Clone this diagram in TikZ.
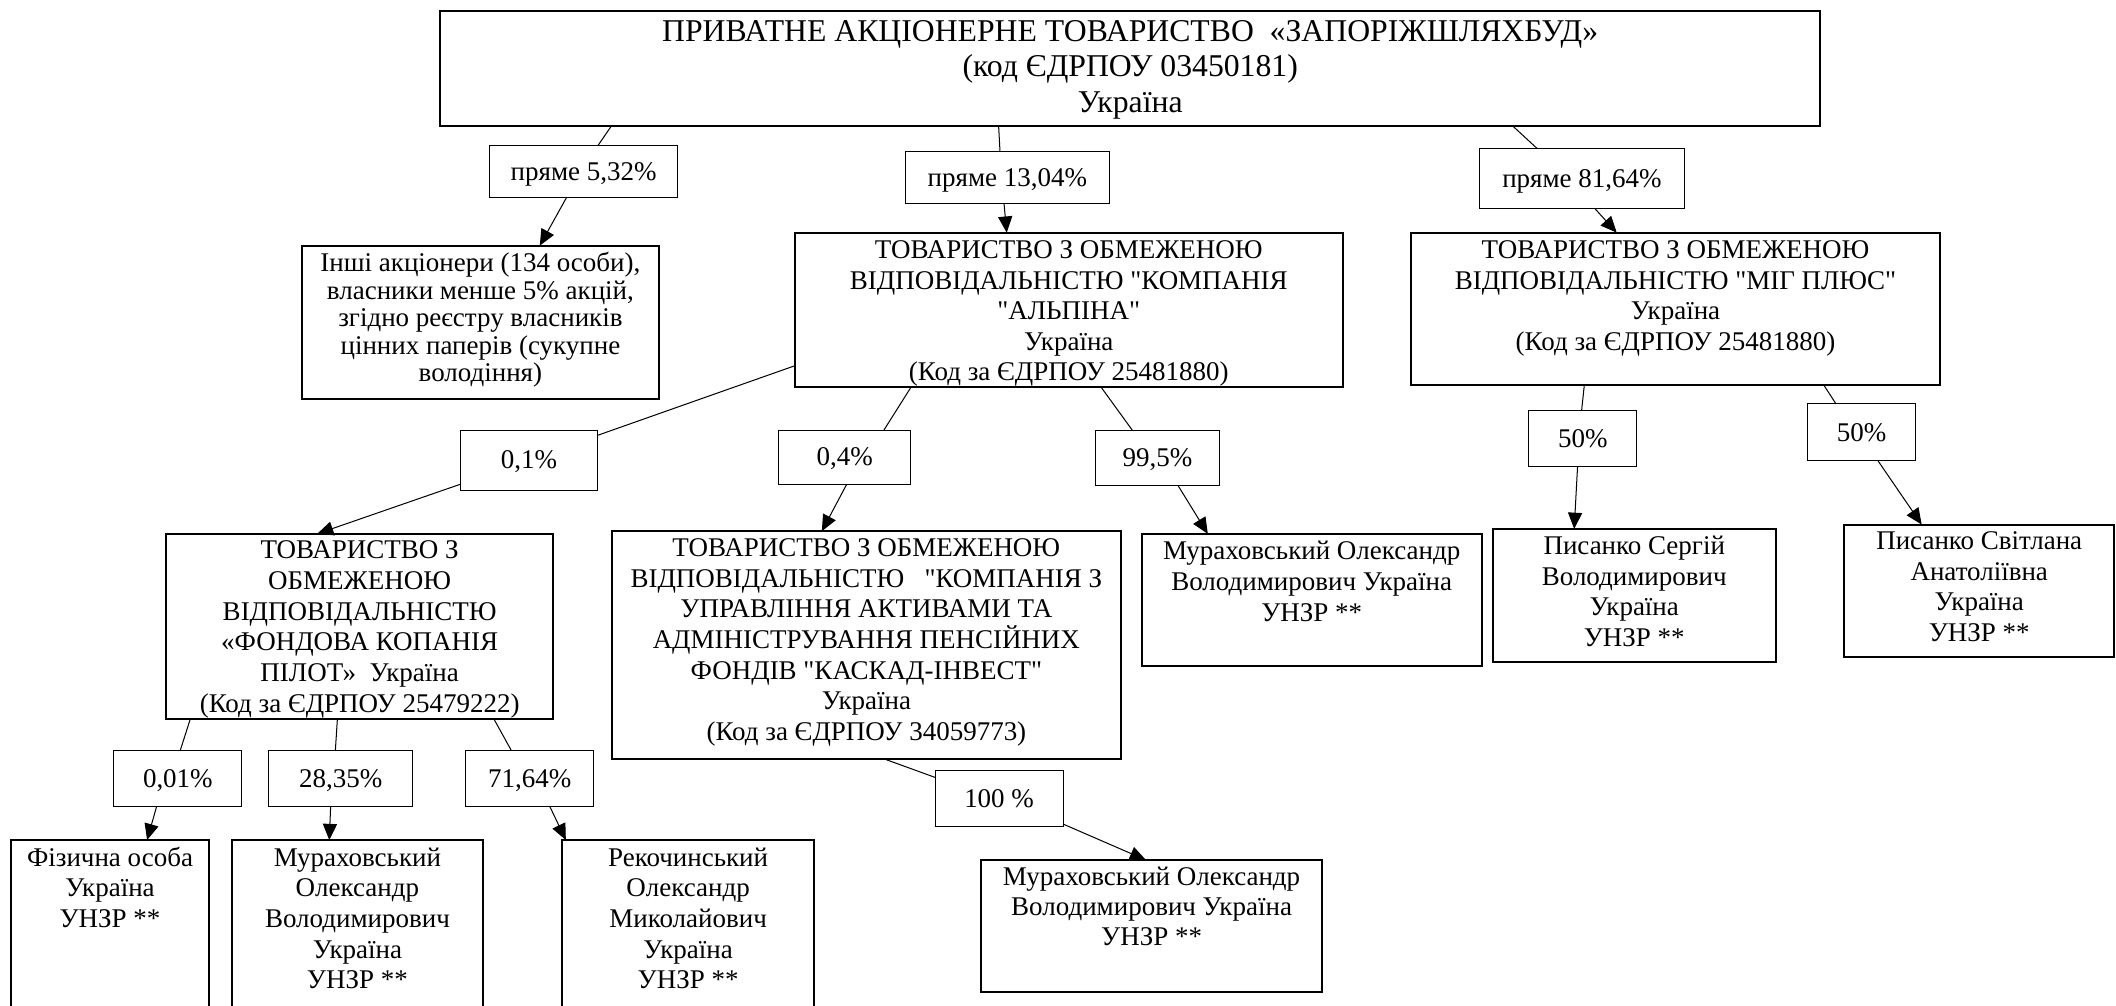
\documentclass[tikz,border=0pt]{standalone}
\usepackage{fontspec}
\setmainfont{Liberation Serif}[Ligatures=TeXOff]
\usetikzlibrary{arrows.meta}
% #1 width, #2 height, #3 font size, #4 line skip, #5 first baseline offset, #6 lines
\newcommand{\boxlines}[6]{\parbox[b][#2][t]{#1}{\fontsize{#3}{#4}\selectfont\centering\rule{0pt}{#5}#6\par}}
\begin{document}
\begin{tikzpicture}[x=1pt,y=-1pt,
  bx/.style={draw, line width=1.5pt, inner sep=0pt, outer sep=0pt, anchor=north west},
  lb/.style={draw, line width=0.75pt, inner sep=0pt, outer sep=0pt, anchor=north west,
             text height=13pt, text depth=0pt},
  ln/.style={line width=0.75pt},
  arr/.style={ln, -{Triangle[length=12pt,width=10.5pt]}},
  font=\fontsize{20}{22.7}\selectfont]
\useasboundingbox (0,0) rectangle (1568,745);
\clip (0,0) rectangle (1568,745);

% main boxes
\node[bx] (root) at (326,8) {\boxlines{1023pt}{85.4pt}{23.5}{26}{23pt}{ПРИВАТНЕ АКЦІОНЕРНЕ ТОВАРИСТВО~ «ЗАПОРІЖШЛЯХБУД»\\(код ЄДРПОУ 03450181)\\Україна}};
\node[bx] (inshi) at (224,182) {\boxlines{264pt}{114pt}{20}{20.4}{19.3pt}{Інші акціонери (134 особи),\\власники менше 5\% акцій,\\згідно реєстру власників\\цінних паперів (сукупне\\володіння)}};
\node[bx] (alp) at (589,172.4) {\boxlines{406pt}{114.6pt}{20}{22.6}{19.2pt}{ТОВАРИСТВО З ОБМЕЖЕНОЮ\\ВІДПОВІДАЛЬНІСТЮ "КОМПАНІЯ\\"АЛЬПІНА"\\Україна\\(Код за ЄДРПОУ 25481880)}};
\node[bx] (mig) at (1045.6,172.4) {\boxlines{392pt}{113pt}{20}{22.7}{19.2pt}{ТОВАРИСТВО З ОБМЕЖЕНОЮ\\ВІДПОВІДАЛЬНІСТЮ "МІГ ПЛЮС"\\Україна\\(Код за ЄДРПОУ 25481880)}};
\node[bx] (pilot) at (123,395.6) {\boxlines{287pt}{137.2pt}{20}{22.74}{18.5pt}{ТОВАРИСТВО З\\ОБМЕЖЕНОЮ\\ВІДПОВІДАЛЬНІСТЮ\\«ФОНДОВА КОПАНІЯ\\ПІЛОТ»~ Україна\\(Код за ЄДРПОУ 25479222)}};
\node[bx] (kaskad) at (453.5,393.6) {\boxlines{377pt}{168.7pt}{20}{22.7}{18.9pt}{ТОВАРИСТВО З ОБМЕЖЕНОЮ\\ВІДПОВІДАЛЬНІСТЮ~~ "КОМПАНІЯ З\\УПРАВЛІННЯ АКТИВАМИ ТА\\АДМІНІСТРУВАННЯ ПЕНСІЙНИХ\\ФОНДІВ "КАСКАД-ІНВЕСТ"\\Україна\\(Код за ЄДРПОУ 34059773)}};
\node[bx] (mur1) at (846,395.6) {\boxlines{252pt}{97.8pt}{20}{22.7}{19.3pt}{Мураховський Олександр\\Володимирович Україна\\УНЗР **}};
\node[bx] (pisS) at (1106,391.9) {\boxlines{210pt}{98.7pt}{20}{22.7}{19pt}{Писанко Сергій\\Володимирович\\Україна\\УНЗР **}};
\node[bx] (pisSv) at (1366.5,388.7) {\boxlines{200.3pt}{98.3pt}{20}{22.7}{18.5pt}{Писанко Світлана\\Анатоліївна\\Україна\\УНЗР **}};
\node[bx] (fiz) at (8.3,622.5) {\boxlines{146.5pt}{140pt}{20}{22.7}{19.3pt}{Фізична особа\\Україна\\УНЗР **}};
\node[bx] (mur2) at (171.7,622.5) {\boxlines{186.3pt}{140pt}{20}{22.7}{19.3pt}{Мураховський\\Олександр\\Володимирович\\Україна\\УНЗР **}};
\node[bx] (rek) at (416.3,622.5) {\boxlines{187.2pt}{140pt}{20}{22.7}{19.3pt}{Рекочинський\\Олександр\\Миколайович\\Україна\\УНЗР **}};
\node[bx] (mur3) at (727.2,637.3) {\boxlines{252.3pt}{98pt}{20}{22.3}{18.8pt}{Мураховський Олександр\\Володимирович Україна\\УНЗР **}};

% share labels
\node[lb, minimum width=139pt, minimum height=38pt] (l532) at (363,108) {пряме 5,32\%};
\node[lb, minimum width=151pt, minimum height=39pt] (l1304) at (671,112) {пряме 13,04\%};
\node[lb, minimum width=152.5pt, minimum height=44.3pt] (l8164) at (1096,110) {пряме 81,64\%};
\node[lb, minimum width=101pt, minimum height=44.6pt] (l01) at (341.5,318.7) {0,1\%};
\node[lb, minimum width=98pt, minimum height=40pt] (l04) at (577,318.7) {0,4\%};
\node[lb, minimum width=92.5pt, minimum height=41.2pt] (l995) at (811.5,318.7) {99,5\%};
\node[lb, minimum width=80pt, minimum height=41.5pt] (l50a) at (1133,304.1) {50\%};
\node[lb, minimum width=80pt, minimum height=42pt] (l50b) at (1339.5,299.3) {50\%};
\node[lb, minimum width=95pt, minimum height=41.5pt] (l001) at (84.3,556.3) {0,01\%};
\node[lb, minimum width=107pt, minimum height=41.5pt] (l2835) at (199,556.3) {28,35\%};
\node[lb, minimum width=95pt, minimum height=41.5pt] (l7164) at (345,556.3) {71,64\%};
\node[lb, minimum width=94.7pt, minimum height=41pt] (l100) at (693,571.1) {100 \%};

% connectors
\draw[ln] ([xshift=127pt]root.south west) -- ([xshift=80pt]l532.north west);
\draw[arr] ([xshift=57pt]l532.south west) -- ([xshift=176pt]inshi.north west);
\draw[ln] ([xshift=414pt]root.south west) -- ([xshift=70pt]l1304.north west);
\draw[arr] ([xshift=73pt]l1304.south west) -- ([xshift=157pt]alp.north west);
\draw[ln] ([xshift=795pt]root.south west) -- ([xshift=43pt]l8164.north west);
\draw[arr] ([xshift=85.6pt]l8164.south west) -- ([xshift=152.4pt]mig.north west);

\draw[ln] ([yshift=-98.6pt]alp.north west) -- ([yshift=-4pt]l01.north east);
\draw[arr] ([yshift=4.6pt]l01.south west) -- ([xshift=112pt]pilot.north west);
\draw[ln] ([xshift=86pt]alp.south west) -- ([xshift=78pt]l04.north west);
\draw[arr] ([xshift=50.5pt]l04.south west) -- ([xshift=155.5pt]kaskad.north west);
\draw[ln] ([xshift=227pt]alp.south west) -- ([xshift=27.5pt]l995.north west);
\draw[arr] ([xshift=61.5pt]l995.south west) -- ([xshift=49pt]mur1.north west);

\draw[ln] ([xshift=128.4pt]mig.south west) -- ([xshift=39pt]l50a.north west);
\draw[arr] ([xshift=36pt]l50a.south west) -- ([xshift=60.5pt]pisS.north west);
\draw[ln] ([xshift=305.9pt]mig.south west) -- ([xshift=21pt]l50b.north west);
\draw[arr] ([xshift=52pt]l50b.south west) -- ([xshift=57.5pt]pisSv.north west);

\draw[ln] ([xshift=18pt]pilot.south west) -- ([xshift=49.2pt]l001.north west);
\draw[arr] ([xshift=31.7pt]l001.south west) -- ([xshift=100.7pt]fiz.north west);
\draw[ln] ([xshift=127pt]pilot.south west) -- ([xshift=49.5pt]l2835.north west);
\draw[arr] ([xshift=46pt]l2835.south west) -- ([xshift=72.3pt]mur2.north west);
\draw[ln] ([xshift=243pt]pilot.south west) -- ([xshift=34pt]l7164.north west);
\draw[arr] ([xshift=62.5pt]l7164.south west) -- ([xshift=3pt]rek.north west);

\draw[ln] ([xshift=201.5pt]kaskad.south west) -- ([yshift=-5pt]l100.north west);
\draw[arr] ([yshift=1.5pt]l100.south east) -- ([xshift=122pt]mur3.north west);
\end{tikzpicture}
\end{document}
